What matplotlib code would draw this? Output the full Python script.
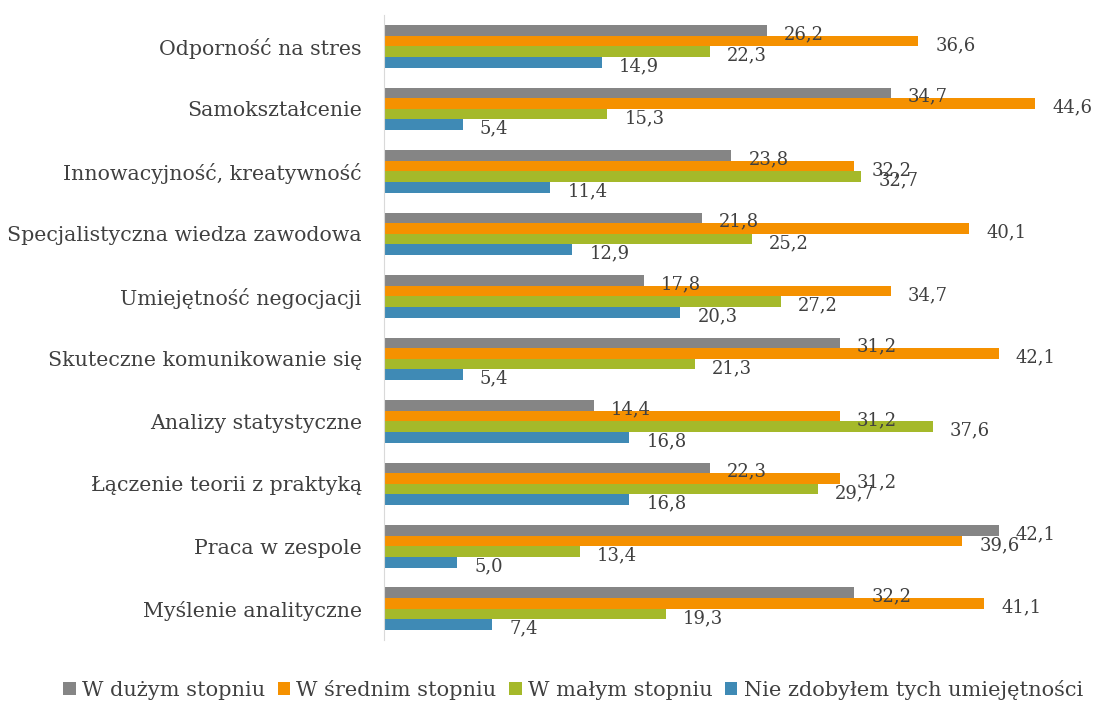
import matplotlib.pyplot as plt
import numpy as np

# categories, top to bottom
categories = ['Odporność na stres', 'Samokształcenie', 'Innowacyjność, kreatywność',
              'Specjalistyczna wiedza zawodowa', 'Umiejętność negocjacji',
              'Skuteczne komunikowanie się', 'Analizy statystyczne',
              'Łączenie teorii z praktyką', 'Praca w zespole', 'Myślenie analityczne']

duzy = [26.2, 34.7, 23.8, 21.8, 17.8, 31.2, 14.4, 22.3, 42.1, 32.2]
sredni = [36.6, 44.6, 32.2, 40.1, 34.7, 42.1, 31.2, 31.2, 39.6, 41.1]
maly = [22.3, 15.3, 32.7, 25.2, 27.2, 21.3, 37.6, 29.7, 13.4, 19.3]
nie = [14.9, 5.4, 11.4, 12.9, 20.3, 5.4, 16.8, 16.8, 5.0, 7.4]

series_names = ['W dużym stopniu', 'W średnim stopniu', 'W małym stopniu',
                'Nie zdobyłem tych umiejętności']
colors = ['#858585', '#F59100', '#A5B92A', '#3F8AB5']

plt.rcParams['font.family'] = ['DejaVu Serif']
text_col = '#404040'

fig = plt.figure(figsize=(10.98, 7.04), dpi=100)
ax = fig.add_axes([384 / 1098, 1 - 640 / 704, 0.988 - 384 / 1098, 625 / 704])

y = np.arange(len(categories))
h = 0.17
for i, (vals, name, c) in enumerate(zip([duzy, sredni, maly, nie], series_names, colors)):
    pos = y + (i - 1.5) * h
    bars = ax.barh(pos, vals, height=h, color=c, label=name)
    for b, v in zip(bars, vals):
        ax.annotate(f'{v:.1f}'.replace('.', ','), (b.get_width(), b.get_y() + b.get_height() / 2),
                    xytext=(17, -4), textcoords='offset pixels',
                    ha='left', va='center', fontsize=13, color=text_col)

ax.set_xlim(0, 48)
ax.set_ylim(len(categories) - 0.5, -0.5)
ax.set_yticks(y)
ax.set_yticklabels(categories, fontsize=14.8, color=text_col)
ax.tick_params(axis='y', length=0, pad=16)
ax.set_xticks([])
for s in ['top', 'right', 'bottom']:
    ax.spines[s].set_visible(False)
ax.spines['left'].set_color('#D9D9D9')

fig.legend(loc='center', bbox_to_anchor=(0.522, 1 - 690 / 704), ncol=4, frameon=False,
           fontsize=15, handlelength=0.6, handleheight=0.6, handletextpad=0.3,
           columnspacing=0.6, labelcolor=text_col)

fig.savefig('out.png', dpi=100)
